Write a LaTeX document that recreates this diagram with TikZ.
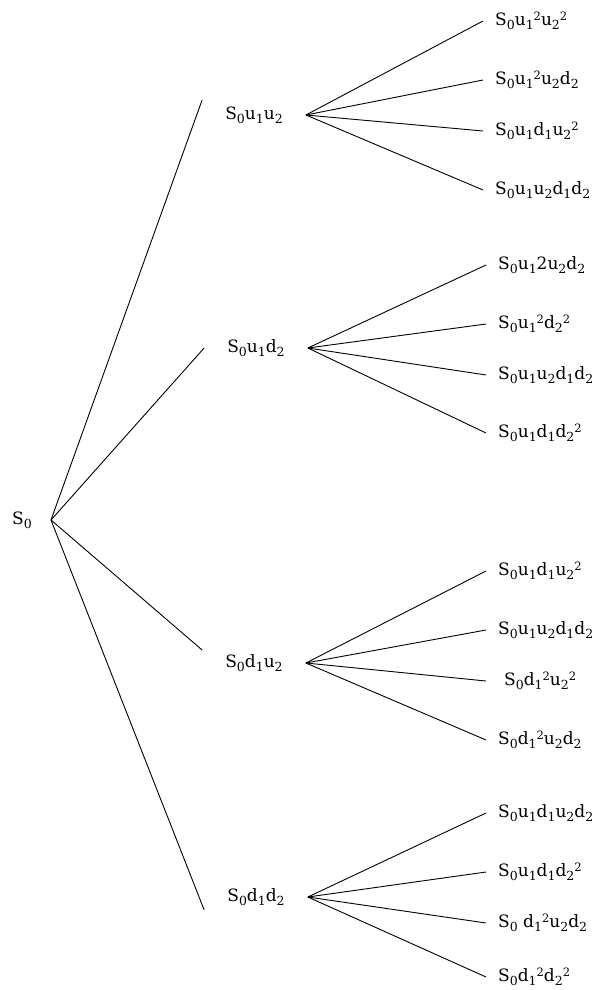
\documentclass[tikz,border=0pt]{standalone}
\usepackage{fontspec}
\setmainfont{DejaVu Serif}
\newcommand{\sbx}[1]{\raisebox{-0.22em}{\fontsize{12.5}{12}\selectfont #1}}
\newcommand{\spx}[1]{\raisebox{0.28em}{\fontsize{11.5}{12}\selectfont #1}}
\begin{document}
\begin{tikzpicture}[x=1pt,y=-1pt,
  lbl/.style={inner ysep=0pt, font=\fontsize{17}{19}\selectfont},
  leaf/.style={lbl, anchor=west, inner xsep=12pt},
  mid/.style={lbl, inner xsep=23pt},
  edge/.style={line width=0.9pt, black}]
\useasboundingbox (0,0) rectangle (600,990);
% root
\node[lbl, anchor=east, inner xsep=19pt] (r) at (51,520) {S\sbx{0}};
% level 1
\node[mid] (a1) at (254,115) {S\sbx{0}u\sbx{1}u\sbx{2}};
\node[mid] (a2) at (256,348) {S\sbx{0}u\sbx{1}d\sbx{2}};
\node[mid] (a3) at (254,663) {S\sbx{0}d\sbx{1}u\sbx{2}};
\node[mid] (a4) at (256,897) {S\sbx{0}d\sbx{1}d\sbx{2}};
% leaves group 1
\node[leaf] (b1) at (483,21) {S\sbx{0}u\sbx{1}\spx{2}u\sbx{2}\spx{2}};
\node[leaf] (b2) at (483,80) {S\sbx{0}u\sbx{1}\spx{2}u\sbx{2}d\sbx{2}};
\node[leaf] (b3) at (483,131) {S\sbx{0}u\sbx{1}d\sbx{1}u\sbx{2}\spx{2}};
\node[leaf] (b4) at (483,190) {S\sbx{0}u\sbx{1}u\sbx{2}d\sbx{1}d\sbx{2}};
% group 2
\node[leaf] (c1) at (486,265) {S\sbx{0}u\sbx{1}2u\sbx{2}d\sbx{2}};
\node[leaf] (c2) at (486,324) {S\sbx{0}u\sbx{1}\spx{2}d\sbx{2}\spx{2}};
\node[leaf] (c3) at (486,375) {S\sbx{0}u\sbx{1}u\sbx{2}d\sbx{1}d\sbx{2}};
\node[leaf] (c4) at (486,433) {S\sbx{0}u\sbx{1}d\sbx{1}d\sbx{2}\spx{2}};
% group 3
\node[leaf] (d1) at (486,571) {S\sbx{0}u\sbx{1}d\sbx{1}u\sbx{2}\spx{2}};
\node[leaf] (d2) at (486,630) {S\sbx{0}u\sbx{1}u\sbx{2}d\sbx{1}d\sbx{2}};
\node[leaf] (d3) at (486,681) {\hspace*{6pt}S\sbx{0}d\sbx{1}\spx{2}u\sbx{2}\spx{2}};
\node[leaf] (d4) at (486,740) {S\sbx{0}d\sbx{1}\spx{2}u\sbx{2}d\sbx{2}};
% group 4
\node[leaf] (e1) at (486,813) {S\sbx{0}u\sbx{1}d\sbx{1}u\sbx{2}d\sbx{2}};
\node[leaf] (e2) at (486,872) {S\sbx{0}u\sbx{1}d\sbx{1}d\sbx{2}\spx{2}};
\node[leaf] (e3) at (486,923) {S\sbx{0} d\sbx{1}\spx{2}u\sbx{2}d\sbx{2}};
\node[leaf] (e4) at (486,977) {S\sbx{0}d\sbx{1}\spx{2}d\sbx{2}\spx{2}};
% connectors
\draw[edge] (r.east) -- ([yshift=15]a1.west);
\draw[edge] (r.east) -- (a2.west);
\draw[edge] (r.east) -- ([yshift=13]a3.west);
\draw[edge] (r.east) -- ([yshift=-13]a4.west);
\foreach \t in {b1,b2,b3,b4} \draw[edge] (a1.east) -- (\t.west);
\foreach \t in {c1,c2,c3,c4} \draw[edge] (a2.east) -- (\t.west);
\foreach \t in {d1,d2,d3,d4} \draw[edge] (a3.east) -- (\t.west);
\foreach \t in {e1,e2,e3,e4} \draw[edge] (a4.east) -- (\t.west);
\end{tikzpicture}
\end{document}
